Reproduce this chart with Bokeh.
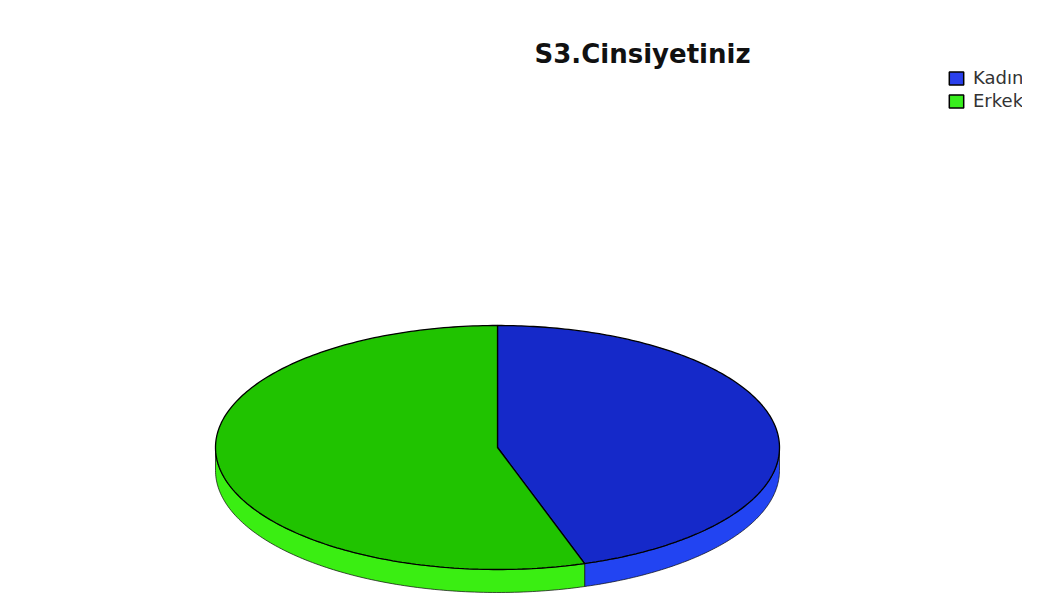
import numpy as np
from bokeh.plotting import figure
from bokeh.models import ColumnDataSource, Range1d, Label, Legend, LegendItem
from bokeh.embed import file_html
from bokeh.resources import INLINE

# ---- data ----
title_text = "S3.Cinsiyetiniz"
labels = ["Kadın", "Erkek"]
values = [45, 55]
top_colors = ["#1529C9", "#20C300"]
side_colors = ["#2244F2", "#3AEE12"]
legend_colors = ["#2A40EC", "#38EE1E"]

W, H = 1022, 596
p = figure(width=W, height=H, output_backend="svg", toolbar_location=None,
           x_range=Range1d(0, W), y_range=Range1d(H, 0),
           x_axis_location=None, y_axis_location=None, min_border=0)
p.grid.visible = False
p.outline_line_color = None
p.background_fill_color = "white"
p.border_fill_color = "white"

# pie geometry (plot pixels)
cx, cy = 497.0, 447.0
a, b = 282.0, 122.0
depth = 23.0

total = float(sum(values))
angles = [v / total * 360.0 for v in values]
starts, ends = [], []
cur = 90.0
for ang in angles:
    starts.append(cur)
    ends.append(cur - ang)
    cur -= ang

def ell(theta_deg, dy=0.0):
    t = np.radians(theta_deg)
    return cx + a * np.cos(t), cy - b * np.sin(t) + dy

# sides (front half: angles in [-180, 0])
sx, sy, sc = [], [], []
for s, e, col in zip(starts, ends, side_colors):
    for k in (-360, 0, 360):
        ih, il = min(s + k, 0.0), max(e + k, -180.0)
        if ih > il:
            th = np.linspace(il, ih, 120)
            x1, y1 = ell(th)
            x2, y2 = ell(th[::-1], depth)
            sx.append(list(np.concatenate([x1, x2])))
            sy.append(list(np.concatenate([y1, y2])))
            sc.append(col)

side_src = ColumnDataSource(dict(xs=sx, ys=sy, color=sc))
p.patches("xs", "ys", source=side_src, fill_color="color",
          line_color="#0a0a0a", line_width=1, line_alpha=0.7)

# tops
tx, ty = [], []
for s, e in zip(starts, ends):
    th = np.linspace(s, e, 200)
    x, y = ell(th)
    tx.append([cx] + list(x))
    ty.append([cy] + list(y))
top_src = ColumnDataSource(dict(xs=tx, ys=ty, color=top_colors, label=labels))
p.patches("xs", "ys", source=top_src, fill_color="color",
          line_color="black", line_width=1.3)

# legend (proxy glyphs placed outside the visible range)
legend_items = []
for i, lab in enumerate(labels):
    r = p.quad(left=[-200], right=[-190], bottom=[-200], top=[-190],
               fill_color=legend_colors[i], line_color="black", line_width=1.5)
    legend_items.append(LegendItem(label=lab, renderers=[r]))
leg = Legend(items=legend_items, location=(947, 485),
             glyph_width=18, glyph_height=16, label_height=16,
             label_standoff=8, spacing=2, padding=0, margin=0,
             label_text_font="DejaVu Sans", label_text_font_size="18px",
             label_text_color="#333333",
             border_line_color=None, background_fill_alpha=0)
p.add_layout(leg)

# title
p.add_layout(Label(x=642, y=53, text=title_text, text_align="center",
                   text_baseline="alphabetic", text_font="DejaVu Sans",
                   text_font_style="bold", text_font_size="26px",
                   text_color="#111111"))

open("out.html", "w").write(file_html(p, INLINE))
